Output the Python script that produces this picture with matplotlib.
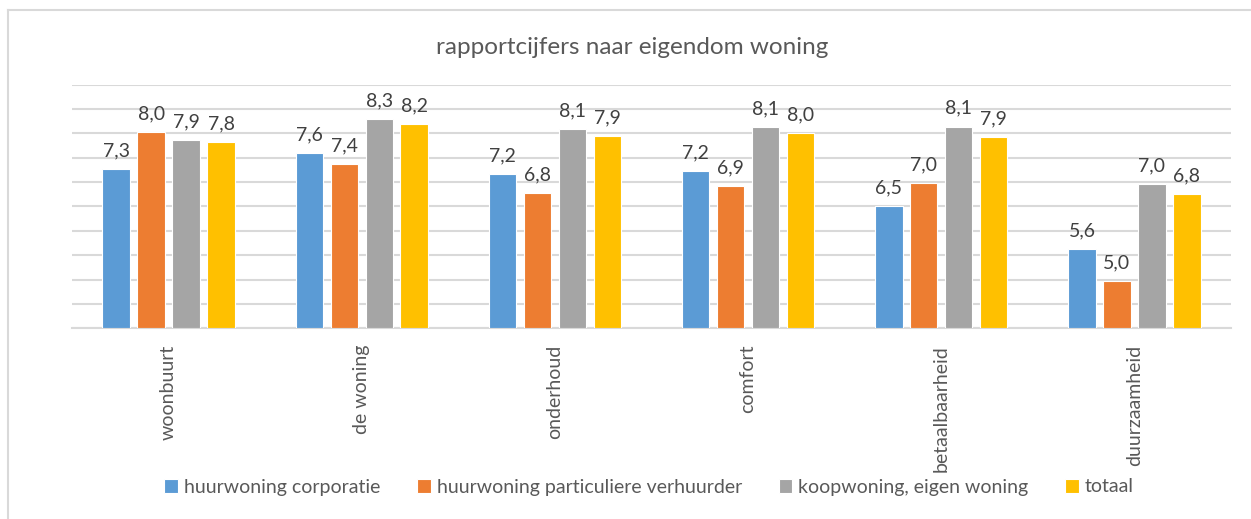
import numpy as np
import matplotlib.pyplot as plt
from matplotlib.lines import Line2D

plt.rcParams['font.family'] = ['Lato', 'DejaVu Sans']

categories = ['woonbuurt', 'de woning', 'onderhoud', 'comfort', 'betaalbaarheid', 'duurzaamheid']
series_names = ['huurwoning corporatie', 'huurwoning particuliere verhuurder',
                'koopwoning, eigen woning', 'totaal']
corporatie = [7.27, 7.59, 7.17, 7.23, 6.51, 5.63]
particulier = [8.02, 7.37, 6.78, 6.92, 6.98, 4.97]
koop = [7.87, 8.30, 8.09, 8.13, 8.14, 6.96]
totaal = [7.82, 8.19, 7.94, 8.01, 7.93, 6.75]
colors = ['#5B9BD5', '#ED7D31', '#A5A5A5', '#FFC000']

W, H = 1251, 519
fig = plt.figure(figsize=(W / 100, H / 100), dpi=100)
ax = fig.add_axes([72 / W, (H - 328.3) / H, (1231 - 72) / W, (328.3 - 84.7) / H])

x = np.arange(len(categories))
bw = 0.142
step = 0.181
all_series = [corporatie, particulier, koop, totaal]
for i, vals in enumerate(all_series):
    pos = x + (i - 1.5) * step
    ax.bar(pos, [v - 4 for v in vals], bottom=4, width=bw, color=colors[i],
           edgecolor='white', linewidth=0.8, label=series_names[i], zorder=3)
    for px, v in zip(pos, vals):
        ax.text(px, v + 0.2, f'{v:.1f}'.replace('.', ','), ha='center', va='bottom',
                fontsize=14, color='#404040')

ax.set_ylim(4, 9)
ax.set_xlim(-0.5, len(categories) - 0.5)
ax.set_yticks(np.arange(4, 9.01, 0.5))
ax.set_yticklabels([])
ax.tick_params(axis='y', length=0)
ax.tick_params(axis='x', length=0, pad=12)
ax.set_xticks(x)
ax.set_xticklabels(categories, rotation=90, fontsize=14, color='#595959', va='top')
ax.grid(axis='y', color='#D9D9D9', linewidth=1.5, zorder=0)
for s in ['top', 'right', 'left']:
    ax.spines[s].set_visible(False)
ax.spines['bottom'].set_color('#D9D9D9')
ax.spines['bottom'].set_linewidth(1.5)

fig.text(632 / W, (H - 47) / H, 'rapportcijfers naar eigendom woning', ha='center',
         va='center', fontsize=17.5, color='#595959')

leg = fig.legend(loc='center', bbox_to_anchor=(649 / W, (H - 487) / H), ncol=4,
                 frameon=False, fontsize=14, handlelength=0.7, handleheight=0.7,
                 handletextpad=0.3, columnspacing=1.9)
for t in leg.get_texts():
    t.set_color('#595959')

fig.add_artist(Line2D([8 / W, 1], [(H - 10) / H, (H - 10) / H], color='#D9D9D9', lw=1.5))
fig.add_artist(Line2D([8 / W, 8 / W], [0, (H - 10) / H], color='#D9D9D9', lw=1.5))

fig.savefig('out.png', dpi=100)
